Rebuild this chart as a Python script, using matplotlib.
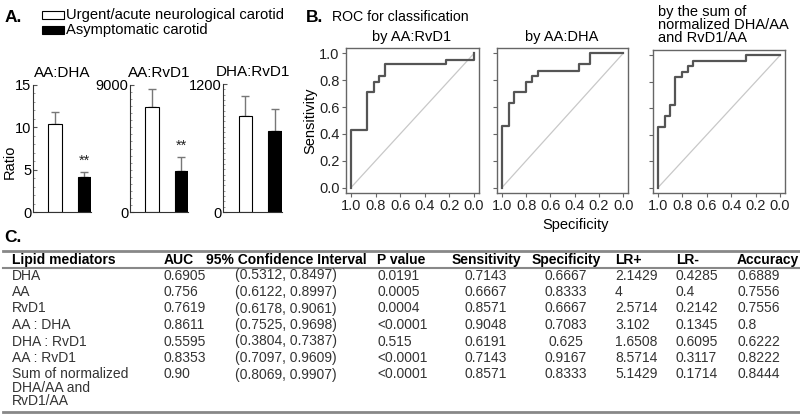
import matplotlib
matplotlib.use('Agg')
import matplotlib.pyplot as plt
from matplotlib.ticker import MultipleLocator
from matplotlib.patches import Rectangle

plt.rcParams['font.family'] = ['Liberation Sans', 'DejaVu Sans']

W, H = 800, 418

# ---- panel A: ratios (mean + upper error)
ratio_names = ['AA:DHA', 'AA:RvD1', 'DHA:RvD1']
urgent_mean = [10.4, 7450, 900]
urgent_err = [1.4, 1270, 185]
asymp_mean = [4.1, 2900, 760]
asymp_err = [0.6, 1000, 205]
ratio_top = [15, 9000, 1200]
ratio_ticks = [[0, 5, 10, 15], [0, 9000], [0, 1200]]
ratio_minor = [1, 500, 50]
signif = ['**', '**', '']
legend_labels = ['Urgent/acute neurological carotid', 'Asymptomatic carotid']

# ---- panel B: ROC step curves (specificity, sensitivity)
roc_titles = ['by AA:RvD1', 'by AA:DHA', 'by the sum of\nnormalized DHA/AA\nand RvD1/AA']
roc_spec = [
    [1.0, 0.87, 0.81, 0.77, 0.72, 0.23, 0.0, 0.0],
    [1.0, 0.94, 0.90, 0.80, 0.75, 0.70, 0.36, 0.27, 0.0],
    [1.0, 0.945, 0.90, 0.86, 0.80, 0.755, 0.714, 0.28, 0.0],
]
roc_sens = [
    [0.0, 0.43, 0.71, 0.79, 0.83, 0.92, 0.95, 1.0],
    [0.0, 0.46, 0.63, 0.71, 0.79, 0.83, 0.87, 0.92, 1.0],
    [0.0, 0.456, 0.54, 0.625, 0.835, 0.873, 0.916, 0.96, 1.0],
]
roc_ticks = [0.0, 0.2, 0.4, 0.6, 0.8, 1.0]

# ---- panel C: table
table_header = ['Lipid mediators', 'AUC', '95% Confidence Interval', 'P value',
                'Sensitivity', 'Specificity', 'LR+', 'LR-', 'Accuracy']
mediators = ['DHA', 'AA', 'RvD1', 'AA : DHA', 'DHA : RvD1', 'AA : RvD1',
             'Sum of normalized\nDHA/AA and\nRvD1/AA']
auc = ['0.6905', '0.756', '0.7619', '0.8611', '0.5595', '0.8353', '0.90']
conf_int = ['(0.5312, 0.8497)', '(0.6122, 0.8997)', '(0.6178, 0.9061)', '(0.7525, 0.9698)',
            '(0.3804, 0.7387)', '(0.7097, 0.9609)', '(0.8069, 0.9907)']
p_value = ['0.0191', '0.0005', '0.0004', '<0.0001', '0.515', '<0.0001', '<0.0001']
sensitivity = ['0.7143', '0.6667', '0.8571', '0.9048', '0.6191', '0.7143', '0.8571']
specificity = ['0.6667', '0.8333', '0.6667', '0.7083', '0.625', '0.9167', '0.8333']
lr_pos = ['2.1429', '4', '2.5714', '3.102', '1.6508', '8.5714', '5.1429']
lr_neg = ['0.4285', '0.4', '0.2142', '0.1345', '0.6095', '0.3117', '0.1714']
accuracy = ['0.6889', '0.7556', '0.7556', '0.8', '0.6222', '0.8222', '0.8444']


def rect(x0, y0, x1, y1):
    # pixel box (top-left origin) -> figure fraction
    return [x0 / W, 1 - y1 / H, (x1 - x0) / W, (y1 - y0) / H]


fig = plt.figure(figsize=(W / 100, H / 100), dpi=100)

# bar panels
bar_boxes = [(33, 85, 91, 212), (130, 85, 188, 212), (223, 84, 282, 212)]
pos = [0.38, 0.885]
for i, box in enumerate(bar_boxes):
    ax = fig.add_axes(rect(*box))
    ax.bar(pos, [urgent_mean[i], asymp_mean[i]], width=0.23,
           color=['white', 'black'], edgecolor='black', linewidth=0.8, zorder=2)
    ax.errorbar(pos, [urgent_mean[i], asymp_mean[i]],
                yerr=[[0, 0], [urgent_err[i], asymp_err[i]]],
                fmt='none', ecolor='#777777', elinewidth=1, capsize=3, zorder=1)
    if signif[i]:
        ax.text(pos[1], asymp_mean[i] + asymp_err[i] + 0.09 * ratio_top[i], signif[i],
                ha='center', va='center', fontsize=10.5, color='#222222')
    ax.set_xlim(0, 1.0)
    ax.set_ylim(0, ratio_top[i])
    ax.set_xticks([])
    ax.set_yticks(ratio_ticks[i])
    ax.yaxis.set_minor_locator(MultipleLocator(ratio_minor[i]))
    ax.tick_params(axis='y', which='major', direction='in', length=3, pad=1,
                   labelsize=10.5, color='#555555')
    ax.tick_params(axis='y', which='minor', direction='in', length=1.5, color='#888888')
    for s in ['top', 'right']:
        ax.spines[s].set_visible(False)
    for s in ['left', 'bottom']:
        ax.spines[s].set_color('#333333')
        ax.spines[s].set_linewidth(0.8)
    ax.set_title(ratio_names[i], fontsize=11, pad=6)
    ax.patch.set_alpha(0)

# ROC panels
roc_boxes = [(346, 48, 479, 193), (497, 48, 628, 193), (653, 50, 785, 193)]
for i, box in enumerate(roc_boxes):
    ax = fig.add_axes(rect(*box))
    ax.plot([1, 0], [0, 1], color='#c8c8c8', lw=0.9)
    ax.step(roc_spec[i], roc_sens[i], where='pre', color='#555555', lw=1.6)
    ax.set_xlim(1.04, -0.04)
    ax.set_ylim(-0.04, 1.04)
    ax.set_xticks(roc_ticks)
    ax.set_yticks(roc_ticks)
    ax.set_xticklabels(['%.1f' % t for t in roc_ticks])
    if i == 0:
        ax.set_yticklabels(['%.1f' % t for t in roc_ticks])
    else:
        ax.set_yticklabels([])
    ax.tick_params(direction='out', length=3, pad=1.5, labelsize=10.5,
                   color='#666666', labelcolor='#222222')
    for s in ax.spines.values():
        s.set_color('#666666')
        s.set_linewidth(1.0)

# overlay for free text, legend and table (pixel coordinates)
ov = fig.add_axes([0, 0, 1, 1])
ov.set_xlim(0, W)
ov.set_ylim(H, 0)
ov.axis('off')

ov.text(5, 17, 'A.', fontsize=12.5, fontweight='bold', va='center')
ov.add_patch(Rectangle((42, 11), 22, 8, fc='white', ec='black', lw=0.8))
ov.add_patch(Rectangle((42, 26), 22, 8, fc='black', ec='black', lw=0.8))
ov.text(66, 15, legend_labels[0], fontsize=10.6, va='center')
ov.text(66, 30, legend_labels[1], fontsize=10.6, va='center')
ov.text(10, 162, 'Ratio', fontsize=10.5, rotation=90, ha='center', va='center')

ov.text(306, 17, 'B.', fontsize=12.5, fontweight='bold', va='center')
ov.text(332, 17, 'ROC for classification', fontsize=10.2, va='center')
ov.text(412, 37, roc_titles[0], fontsize=10.5, ha='center', va='center')
ov.text(562, 37, roc_titles[1], fontsize=10.5, ha='center', va='center')
ov.text(658, 25, roc_titles[2], fontsize=10.5, ha='left', va='center', linespacing=0.9)
ov.text(310, 121, 'Sensitivity', fontsize=10.5, rotation=90, ha='center', va='center')
ov.text(576, 225, 'Specificity', fontsize=10.5, ha='center', va='center')

ov.text(4, 238, 'C.', fontsize=12.5, fontweight='bold', va='center')
ov.plot([3, 800], [251, 251], color='#888888', lw=2)
ov.plot([3, 800], [268, 268], color='#888888', lw=1.5)
ov.plot([3, 800], [412, 412], color='#888888', lw=2)

col_x = [12, 164, 286, 377, 486, 566, 615, 676, 737]
col_ha = ['left', 'left', 'center', 'left', 'center', 'center', 'left', 'left', 'left']
for x, ha, h in zip(col_x, col_ha, table_header):
    ov.text(x, 260, h, fontsize=10, fontweight='bold', ha=ha, va='center')

columns = [mediators, auc, conf_int, p_value, sensitivity, specificity, lr_pos, lr_neg, accuracy]
for r in range(len(mediators)):
    y = 276 + 16.5 * r
    for x, ha, col in zip(col_x, col_ha, columns):
        ov.text(x, y - 7.5, col[r], fontsize=10, ha=ha, va='top', color='#333333',
                linespacing=0.92)

fig.savefig('out.png', dpi=100)
